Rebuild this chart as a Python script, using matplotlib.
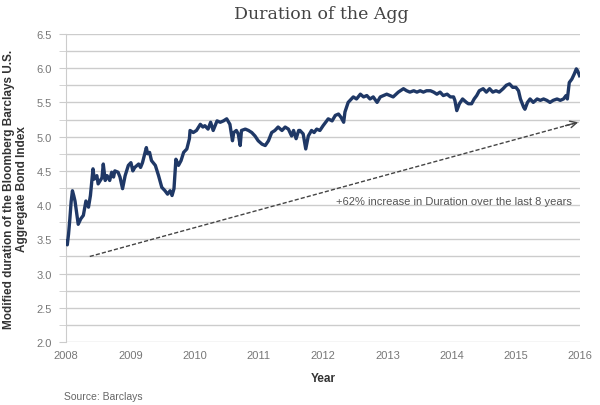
import matplotlib
matplotlib.use('Agg')
import matplotlib.pyplot as plt
from matplotlib.ticker import MultipleLocator

plt.rcParams['font.family'] = ['Liberation Sans', 'DejaVu Sans']

# Данные: год и модифицированная дюрация
years = [
    2008.00, 2008.02, 2008.04, 2008.06, 2008.08, 2008.10, 2008.12, 2008.14, 2008.19, 2008.23,
    2008.27, 2008.31, 2008.35, 2008.38, 2008.42, 2008.44, 2008.48, 2008.50, 2008.56, 2008.58,
    2008.61, 2008.64, 2008.68, 2008.71, 2008.74, 2008.76, 2008.81, 2008.84, 2008.88, 2008.92,
    2008.97, 2009.01, 2009.04, 2009.07, 2009.13, 2009.16, 2009.19, 2009.25, 2009.27, 2009.30,
    2009.33, 2009.39, 2009.44, 2009.49, 2009.54, 2009.58, 2009.62, 2009.65, 2009.68, 2009.71,
    2009.75, 2009.79, 2009.83, 2009.88, 2009.92, 2009.93, 2009.98, 2010.03, 2010.09, 2010.13,
    2010.16, 2010.21, 2010.25, 2010.29, 2010.35, 2010.40, 2010.45, 2010.50, 2010.55, 2010.59,
    2010.61, 2010.65, 2010.68, 2010.71, 2010.73, 2010.79, 2010.84, 2010.89, 2010.94, 2010.99,
    2011.05, 2011.10, 2011.15, 2011.20, 2011.25, 2011.30, 2011.36, 2011.41, 2011.46, 2011.51,
    2011.54, 2011.58, 2011.62, 2011.64, 2011.69, 2011.73, 2011.77, 2011.82, 2011.86, 2011.90,
    2011.95, 2012.00, 2012.08, 2012.14, 2012.19, 2012.24, 2012.28, 2012.32, 2012.34, 2012.39,
    2012.47, 2012.52, 2012.58, 2012.63, 2012.68, 2012.73, 2012.78, 2012.84, 2012.89, 2012.94,
    2012.99, 2013.04, 2013.09, 2013.17, 2013.25, 2013.30, 2013.35, 2013.41, 2013.46, 2013.51,
    2013.56, 2013.61, 2013.67, 2013.72, 2013.77, 2013.82, 2013.87, 2013.93, 2013.98, 2014.03,
    2014.05, 2014.08, 2014.12, 2014.17, 2014.23, 2014.26, 2014.31, 2014.35, 2014.39, 2014.43,
    2014.49, 2014.54, 2014.59, 2014.64, 2014.69, 2014.74, 2014.80, 2014.85, 2014.90, 2014.95,
    2015.00, 2015.04, 2015.07, 2015.12, 2015.14, 2015.18, 2015.22, 2015.27, 2015.33, 2015.38,
    2015.43, 2015.48, 2015.53, 2015.58, 2015.64, 2015.69, 2015.74, 2015.78, 2015.80, 2015.83,
    2015.87, 2015.91, 2015.94, 2015.96, 2015.99,
]
duration = [
    3.47, 3.42, 3.58, 3.80, 4.05, 4.21, 4.14, 4.06, 3.72, 3.80,
    3.85, 4.06, 3.97, 4.14, 4.53, 4.38, 4.43, 4.31, 4.40, 4.60,
    4.36, 4.43, 4.36, 4.48, 4.41, 4.50, 4.48, 4.41, 4.24, 4.43,
    4.58, 4.62, 4.50, 4.55, 4.60, 4.55, 4.62, 4.84, 4.75, 4.77,
    4.65, 4.58, 4.43, 4.26, 4.21, 4.16, 4.21, 4.14, 4.24, 4.67,
    4.58, 4.65, 4.77, 4.82, 4.97, 5.09, 5.06, 5.09, 5.18, 5.14,
    5.16, 5.11, 5.21, 5.09, 5.23, 5.21, 5.23, 5.26, 5.18, 4.94,
    5.06, 5.09, 5.04, 4.87, 5.09, 5.11, 5.09, 5.06, 5.01, 4.94,
    4.89, 4.87, 4.94, 5.06, 5.09, 5.14, 5.09, 5.14, 5.11, 5.01,
    5.09, 4.97, 5.09, 5.09, 5.04, 4.82, 5.01, 5.09, 5.06, 5.11,
    5.09, 5.16, 5.26, 5.23, 5.31, 5.33, 5.28, 5.21, 5.36, 5.50,
    5.58, 5.55, 5.62, 5.58, 5.60, 5.55, 5.58, 5.50, 5.58, 5.60,
    5.62, 5.60, 5.58, 5.65, 5.70, 5.67, 5.65, 5.67, 5.65, 5.67,
    5.65, 5.67, 5.67, 5.65, 5.62, 5.65, 5.60, 5.62, 5.58, 5.58,
    5.53, 5.38, 5.48, 5.55, 5.50, 5.48, 5.48, 5.55, 5.60, 5.67,
    5.70, 5.65, 5.70, 5.65, 5.67, 5.65, 5.70, 5.75, 5.77, 5.72,
    5.72, 5.67, 5.55, 5.43, 5.40, 5.50, 5.55, 5.50, 5.55, 5.53,
    5.55, 5.53, 5.50, 5.53, 5.55, 5.53, 5.55, 5.60, 5.55, 5.79,
    5.84, 5.92, 5.99, 5.96, 5.89,
]

# Стрелка тренда и подпись
trend_start = (2008.37, 3.25)
trend_end = (2015.97, 5.21)
note_text = '+62% increase in Duration over the last 8 years'

x_ticks = [2008, 2009, 2010, 2011, 2012, 2013, 2014, 2015, 2016]

fig = plt.figure(figsize=(6, 4.06), dpi=100)
ax = fig.add_axes([0.11, 0.155, 0.857, 0.759])

ax.plot(years, duration, color='#1f3866', linewidth=2.4, solid_joinstyle='round', zorder=3)

# Пунктирная линия тренда со стрелкой
ax.plot([trend_start[0], trend_end[0]], [trend_start[1], trend_end[1]],
        linestyle=(0, (3, 1.5)), color='#444444', linewidth=1.0, zorder=2)
ax.annotate('', xy=trend_end, xytext=(trend_end[0] - 0.2, trend_end[1] - 0.05),
            arrowprops=dict(arrowstyle='->', color='#444444', lw=1.0,
                            mutation_scale=12, shrinkA=0, shrinkB=0))
ax.text(2015.87, 4.06, note_text, ha='right', va='center', fontsize=8, color='#555555')

ax.set_xlim(2008, 2016)
ax.set_ylim(2.0, 6.5)
ax.set_xticks(x_ticks)
ax.set_xticklabels([str(x) for x in x_ticks])
ax.yaxis.set_major_locator(MultipleLocator(0.5))
ax.yaxis.set_minor_locator(MultipleLocator(0.25))
ax.yaxis.set_major_formatter(plt.FormatStrFormatter('%.1f'))

ax.grid(axis='y', which='both', color='#cccccc', linewidth=1.0, zorder=0)
ax.set_axisbelow(True)
for side in ['top', 'right', 'bottom']:
    ax.spines[side].set_visible(False)
ax.spines['left'].set_color('#cccccc')
ax.tick_params(axis='y', which='both', length=5, color='#cccccc', labelsize=8,
               labelcolor='#777777', pad=5)
ax.tick_params(axis='x', length=0, labelsize=8, labelcolor='#777777', pad=6)

ax.set_xlabel('Year', fontsize=8.5, fontweight='bold', color='#333333', labelpad=8)
ax.set_ylabel('Modified duration of the Bloomberg Barclays U.S.\nAggregate Bond Index',
              fontsize=8.5, fontweight='bold', color='#333333', labelpad=6)

fig.text(0.535, 0.965, 'Duration of the Agg', ha='center', va='center',
         fontsize=12.5, family='DejaVu Serif', color='#444444')
fig.text(0.107, 0.022, 'Source: Barclays', ha='left', va='center', fontsize=7.5, color='#666666')

fig.savefig('out.png', dpi=100)
